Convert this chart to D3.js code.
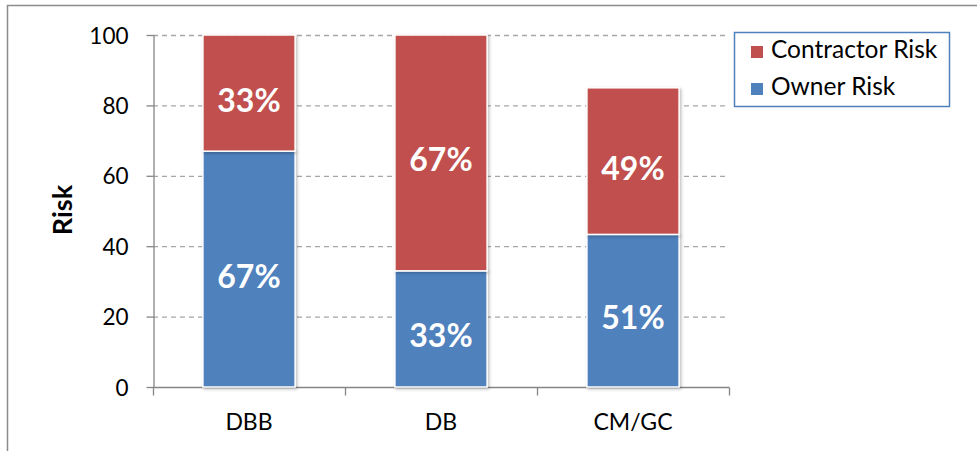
<!DOCTYPE html>
<html>
<head>
<meta charset="utf-8">
<script src="https://cdn.jsdelivr.net/npm/d3@7"></script>
<style>
  html, body { margin: 0; padding: 0; background: #fff; }
  svg { display: block; font-family: Lato, "Open Sans", sans-serif; }
</style>
</head>
<body>
<svg id="chart" width="977" height="451"></svg>
<script>
// Delivery methods and how total risk splits between owner and contractor
const categories = ["DBB", "DB", "CM/GC"];
const totalRisk = [100, 100, 85];
const ownerShare = [67, 33, 51];        // % of each bar
const contractorShare = [33, 67, 49];   // % of each bar
const yTicks = [0, 20, 40, 60, 80, 100];
const seriesNames = ["Owner Risk", "Contractor Risk"];
const colors = { "Owner Risk": "#4F81BD", "Contractor Risk": "#C0504D" };

const rows = categories.map((c, i) => ({
  category: c,
  "Owner Risk": totalRisk[i] * ownerShare[i] / 100,
  "Contractor Risk": totalRisk[i] * contractorShare[i] / 100,
  shares: { "Owner Risk": ownerShare[i], "Contractor Risk": contractorShare[i] }
}));

const svg = d3.select("#chart");
const plot = { left: 153, right: 729, top: 35, bottom: 387 };

// Outer chart frame
svg.append("path")
  .attr("d", "M7.5,451 V5.5 H977")
  .attr("fill", "none").attr("stroke", "#8c8c8c").attr("stroke-width", 1.5);

const x = d3.scaleBand().domain(categories).range([plot.left, plot.right]).paddingInner(0.52).paddingOuter(0.26);
const y = d3.scaleLinear().domain([0, 100]).range([plot.bottom, plot.top]);

// Dashed gridlines
svg.append("g").selectAll("line").data(yTicks.filter(t => t > 0)).join("line")
  .attr("x1", plot.left).attr("x2", plot.right)
  .attr("y1", d => y(d) + 0.5).attr("y2", d => y(d) + 0.5)
  .attr("stroke", "#a6a6a6").attr("stroke-width", 1.3).attr("stroke-dasharray", "5,4");

// Y axis
const yAxis = svg.append("g").attr("transform", `translate(${plot.left + 0.5},0)`)
  .call(d3.axisLeft(y).tickValues(yTicks).tickSize(7).tickPadding(18).tickSizeOuter(0));
yAxis.attr("font-family", null).attr("font-size", null);
yAxis.select(".domain").attr("stroke", "#868686").attr("stroke-width", 1.3);
yAxis.selectAll(".tick line").attr("stroke", "#868686").attr("stroke-width", 1.3);
yAxis.selectAll(".tick text").attr("font-size", 22.5).attr("fill", "#000").attr("dy", "0.36em");

// X axis with tick marks at category boundaries
const xb = plot.bottom + 0.5;
svg.append("line").attr("x1", plot.left).attr("x2", plot.right + 0.5).attr("y1", xb).attr("y2", xb)
  .attr("stroke", "#868686").attr("stroke-width", 1.3);
const step = (plot.right - plot.left) / categories.length;
svg.append("g").selectAll("line").data(d3.range(categories.length + 1)).join("line")
  .attr("x1", i => plot.left + i * step + 0.5).attr("x2", i => plot.left + i * step + 0.5)
  .attr("y1", xb).attr("y2", xb + 8)
  .attr("stroke", "#868686").attr("stroke-width", 1.3);
svg.append("g").selectAll("text").data(categories).join("text")
  .attr("x", d => x(d) + x.bandwidth() / 2).attr("y", 430)
  .attr("text-anchor", "middle").attr("font-size", 23).attr("fill", "#000")
  .text(d => d);

// Y axis title
svg.append("text").attr("transform", "translate(72,210) rotate(-90)")
  .attr("text-anchor", "middle").attr("font-size", 27).attr("font-weight", "bold")
  .text("Risk");

// Stacked bars
const stack = d3.stack().keys(seriesNames)(rows);
const defs = svg.append("defs");
const f = defs.append("filter").attr("id", "shadow").attr("x", "-10%").attr("y", "-10%").attr("width", "130%").attr("height", "130%");
f.append("feDropShadow").attr("dx", 1.5).attr("dy", 1.5).attr("stdDeviation", 1.5).attr("flood-color", "#000").attr("flood-opacity", 0.25);

const layers = svg.append("g").selectAll("g").data(stack).join("g")
  .attr("fill", d => colors[d.key]);
layers.selectAll("rect").data(d => d.map(p => ({ p, key: d.key }))).join("rect")
  .attr("x", d => x(d.p.data.category))
  .attr("width", x.bandwidth())
  .attr("y", d => y(d.p[1]))
  .attr("height", d => y(d.p[0]) - y(d.p[1]))
  .attr("stroke", "#fff").attr("stroke-width", 1.5)
  .attr("filter", "url(#shadow)");

// Percentage labels, set slightly below each segment's middle
layers.selectAll("text").data(d => d.map(p => ({ p, key: d.key }))).join("text")
  .attr("x", d => x(d.p.data.category) + x.bandwidth() / 2)
  .attr("y", d => y((d.p[0] + d.p[1]) / 2) + 7)
  .attr("dy", "0.36em")
  .attr("text-anchor", "middle").attr("fill", "#fff")
  .attr("font-size", 32).attr("font-weight", "bold")
  .text(d => d.p.data.shares[d.key] + "%");

// Legend
const lg = svg.append("g");
lg.append("rect").attr("x", 734.5).attr("y", 32.5).attr("width", 215).attr("height", 74)
  .attr("fill", "#fff").attr("stroke", "#4F81BD").attr("stroke-width", 1.5);
const legendOrder = ["Contractor Risk", "Owner Risk"];
legendOrder.forEach((k, i) => {
  const base = 58 + i * 37;
  lg.append("rect").attr("x", 751).attr("y", base - 12).attr("width", 12).attr("height", 12).attr("fill", colors[k]);
  lg.append("text").attr("x", 771).attr("y", base)
    .attr("font-size", 24.5).attr("fill", "#000").text(k);
});
</script>
</body>
</html>
